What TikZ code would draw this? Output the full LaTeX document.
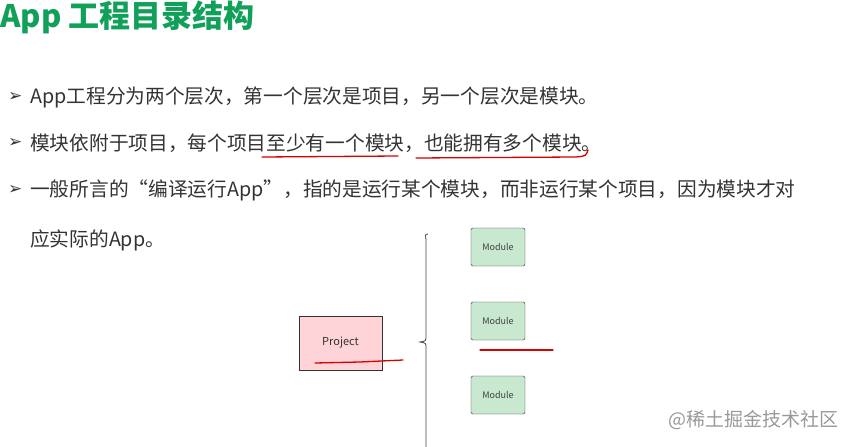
\documentclass[tikz,border=0pt]{standalone}
\usepackage{fontspec}
\setmainfont{Noto Sans CJK SC}
\newfontfamily\cjk{Noto Sans CJK SC}
\newfontfamily\dv{DejaVu Sans}
\definecolor{tgreen}{HTML}{11A05A}
\definecolor{txt}{HTML}{333333}
\definecolor{pfill}{HTML}{FFD4D8}
\definecolor{mfill}{HTML}{C8E8CF}
\begin{document}
\begin{tikzpicture}[x=1pt,y=-1pt,
  line/.style={anchor=west,inner sep=0pt,font=\fontsize{19.7}{22}\selectfont,text=txt},
  bul/.style={anchor=west,inner sep=0pt,font=\dv\fontsize{17}{18}\selectfont,text=txt},
  modbox/.style={draw=black!80,fill=mfill,rounded corners=1.5pt,minimum width=54pt,minimum height=38pt,inner sep=0pt,font=\fontsize{9}{10}\selectfont,text=black!75},
  redline/.style={draw=red!85!black,line width=1.3pt,line cap=round}]
\useasboundingbox (0,0) rectangle (860,447);
\node[anchor=west,inner sep=0pt,font=\bfseries\fontsize{31}{34}\selectfont,text=tgreen] (title) at (0,17) {App 工程目录结构};
\node[bul] (b1) at (8,97) {➢};
\node[line] (l1) at (30,97) {App工程分为两个层次，第一个层次是项目，另一个层次是模块。};
\node[bul] (b2) at (8,143) {➢};
\node[line] (l2) at (30,143) {模块依附于项目，每个项目至少有一个模块，也能拥有多个模块。};
\node[bul] (b3) at (8,190) {➢};
\node[line] (l3) at (30,190) {一般所言的“编译运行App”，指的是运行某个模块，而非运行某个项目，因为模块才对};
\node[line] (l4) at (30,240) {应实际的App。};
\draw[redline] (262,157) -- (398,156);
\draw[redline] (416,158) -- (576,157) .. controls (586,156) .. (588,150);
\node[draw=black!80,fill=pfill,minimum width=83pt,minimum height=54pt,inner sep=0pt,font=\fontsize{11}{13}\selectfont,text=black!80] (proj) at (340.5,343) {Project};
\node[modbox] (m1) at (498,247) {Module};
\node[modbox] (m2) at (498,321) {Module};
\node[modbox] (m3) at (498,395) {Module};
\draw[black!75,line width=0.8pt] (428,234) .. controls (424,234) and (426,236) .. (426,240) -- (426,336) .. controls (426,341) .. (420,342) .. controls (426,343) .. (426,348) -- (426,447);
\draw[redline] (315,363) -- (360,362) -- (403,360);
\draw[redline] (480,350) -- (553,350);
\node[anchor=west,inner sep=0pt,font=\fontsize{19}{20}\selectfont,text=black!40] (wm) at (668,420) {@稀土掘金技术社区};
\end{tikzpicture}
\end{document}
